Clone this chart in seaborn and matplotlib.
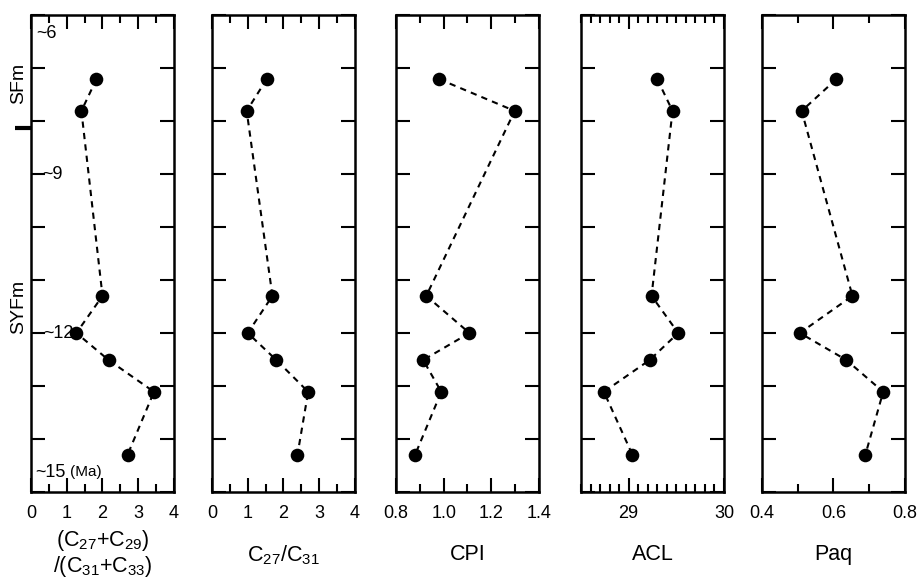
import matplotlib
matplotlib.use("Agg")
import matplotlib.pyplot as plt
import seaborn as sns
from matplotlib.ticker import MultipleLocator

# sample ages (Ma), top to bottom
age = [7.21, 7.81, 11.30, 12.0, 12.51, 13.11, 14.30]

ratio_27_29_31_33 = [1.83, 1.41, 2.00, 1.27, 2.17, 3.44, 2.70]
ratio_27_31 = [1.53, 0.97, 1.69, 1.00, 1.80, 2.69, 2.39]
cpi = [0.981, 1.298, 0.927, 1.108, 0.914, 0.990, 0.880]
acl = [29.30, 29.46, 29.24, 29.52, 29.22, 28.74, 29.04]
paq = [0.608, 0.511, 0.653, 0.506, 0.636, 0.739, 0.689]

labels = [
    "(C$\\mathregular{_{27}}$+C$\\mathregular{_{29}}$)\n/(C$\\mathregular{_{31}}$+C$\\mathregular{_{33}}$)",
    "C$\\mathregular{_{27}}$/C$\\mathregular{_{31}}$",
    "CPI",
    "ACL",
    "Paq",
]
series = [ratio_27_29_31_33, ratio_27_31, cpi, acl, paq]
xlims = [(0, 4), (0, 4), (0.8, 1.4), (28.5, 30), (0.4, 0.8)]
majors = [1, 1, 0.2, 1, 0.2]
minors = [0.5, 0.5, 0.1, 0.1, 0.1]
fmts = ["{:.0f}", "{:.0f}", "{:.1f}", "{:.0f}", "{:.1f}"]

sns.set_theme(style="ticks")
plt.rcParams["font.family"] = ["Liberation Sans", "DejaVu Sans"]
plt.rcParams["mathtext.fontset"] = "custom"
plt.rcParams["mathtext.rm"] = "Liberation Sans"
plt.rcParams["text.color"] = "black"
plt.rcParams["axes.labelcolor"] = "black"
plt.rcParams["xtick.color"] = "black"
plt.rcParams["ytick.color"] = "black"

fig = plt.figure(figsize=(9.2, 5.79), dpi=100)
lefts = [31, 212, 396, 581, 762]
W, H = 920, 579

for i, vals in enumerate(series):
    ax = fig.add_axes([lefts[i] / W, (579 - 492) / H, 143 / W, 477 / H])
    sns.lineplot(x=vals, y=age, sort=False, estimator=None, ax=ax,
                 color="black", lw=1.5, linestyle=(0, (3, 2.5)),
                 marker="o", markersize=9.8, mec="black", mew=0)
    ax.set_xlim(*xlims[i])
    ax.set_ylim(15, 6)
    ax.xaxis.set_major_locator(MultipleLocator(majors[i]))
    ax.xaxis.set_minor_locator(MultipleLocator(minors[i]))
    ax.yaxis.set_major_locator(MultipleLocator(1))
    ticks = [t for t in ax.get_xticks() if xlims[i][0] - 1e-9 <= t <= xlims[i][1] + 1e-9]
    ax.set_xticks(ticks)
    ax.set_xticklabels([fmts[i].format(t) for t in ticks])
    ax.set_yticklabels([])
    ax.tick_params(axis="both", which="major", direction="in", length=10, width=1.5,
                   top=True, right=True, labelsize=13, pad=9)
    ax.tick_params(axis="x", which="minor", direction="in", length=6, width=1.5,
                   top=True, bottom=True)
    for s in ax.spines.values():
        s.set_linewidth(1.8)
        s.set_color("black")
    ax.set_ylabel("")
    ax.set_xlabel(labels[i], fontsize=15.5, linespacing=1.05)
    ax.xaxis.label.set_va("center")
    ax.xaxis.set_label_coords(0.5, -0.128 if i == 0 else -0.132)

    if i == 0:
        yt = ax.get_yaxis_transform()
        ax.text(0.035, 6.34, "~6", fontsize=13, ha="left", va="center", transform=yt)
        ax.text(0.077, 9, "~9", fontsize=13, ha="left", va="center", transform=yt)
        ax.text(0.084, 12, "~12", fontsize=13, ha="left", va="center", transform=yt)
        ax.text(0.03, 14.64, "~15", fontsize=13, ha="left", va="center", transform=yt)
        ax.text(0.27, 14.62, "(Ma)", fontsize=11, ha="left", va="center", transform=yt)
        ax.text(-0.085, 7.3, "SFm", fontsize=14, rotation=90, ha="center", va="center",
                transform=yt)
        ax.text(-0.085, 11.5, "SYFm", fontsize=14, rotation=90, ha="center", va="center",
                transform=yt)
        ax.plot([-0.11, 0], [8.13, 8.13], color="black", lw=3, clip_on=False,
                transform=yt, solid_capstyle="butt")

fig.savefig("out.png", dpi=100)
